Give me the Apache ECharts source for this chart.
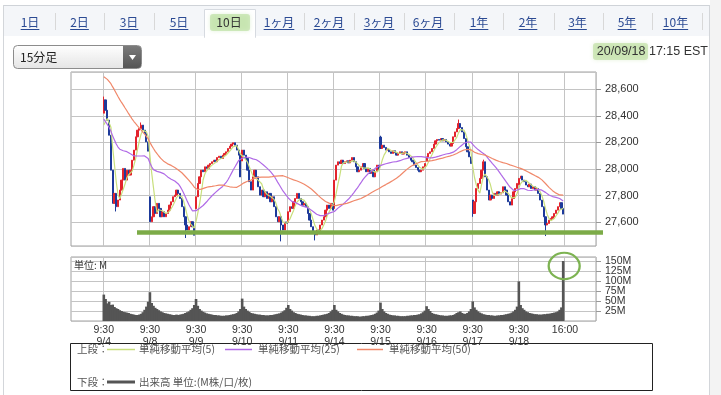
<!DOCTYPE html>
<html><head><meta charset="utf-8">
<script src="https://cdn.jsdelivr.net/npm/echarts@6/dist/echarts.min.js"></script>
<style>html,body{margin:0;padding:0;background:#fff;}#c{width:721px;height:395px;}</style>
</head><body><div id="c"></div>
<script>
// ---------- data ----------
const dayLabels = ['9/4','9/8','9/9','9/10','9/11','9/14','9/15','9/16','9/17','9/18'];
const barTimes = ['9:30','9:45','10:00','10:15','10:30','10:45','11:00','11:15','11:30','11:45','12:00','12:15','12:30','12:45','13:00','13:15','13:30','13:45','14:00','14:15','14:30','14:45','15:00','15:15','15:30','15:45'];
const closeLabel = '16:00';
const priceTicks = [27600, 27800, 28000, 28200, 28400, 28600];
const volumeTicks = [25, 50, 75, 100, 125, 150];

// opening price of the first 15-minute bar of each day
const dayOpens = [28420, 27790, 27700, 28060, 27600, 27740, 28240, 28060, 27766, 27880];

// 15-minute closes, one array per session
const c0904 = [28520,28442,28367,28254,27991,27741,27816,27716,27766,27841,27916,28004,27916,27991,27954,27991,28066,28142,28242,28292,28304,28330,28292,28267,28204,28134];
const c0908 = [27603,27640,27716,27665,27741,27703,27640,27678,27640,27665,27690,27728,27753,27791,27803,27841,27816,27778,27716,27640,27578,27540,27565,27603,27565,27501];
const c0909 = [27791,27891,27941,27991,27979,28016,28004,28029,28041,28054,28066,28054,28086,28096,28079,28104,28117,28129,28154,28172,28187,28197,28179,28142,28104,27940];
const c0910 = [28142,28104,28079,27991,27904,27841,27941,27991,27941,27866,27803,27841,27791,27828,27778,27816,27753,27791,27716,27640,27603,27640,27578,27540,27600,27590];
const c0911 = [27678,27716,27703,27753,27778,27816,27778,27753,27728,27741,27716,27665,27615,27565,27528,27503,27540,27515,27578,27615,27640,27690,27728,27703,27741,27690];
const c0914 = [27916,28029,28054,28041,28066,28041,28054,28061,28046,28066,28086,28054,28016,27979,27991,28016,28041,28004,27979,28004,27966,27991,27941,27979,28029,27996];
const c0915 = [28154,28179,28162,28142,28147,28129,28117,28137,28122,28104,28117,28129,28112,28122,28129,28104,28086,28066,28054,28029,28011,27991,27979,27991,28016,28041];
const c0916 = [28091,28117,28129,28154,28187,28212,28222,28217,28229,28212,28222,28204,28187,28172,28192,28242,28279,28304,28342,28312,28279,28229,28167,28129,28091,28041];
const c0917 = [27665,27753,27853,27891,27929,27991,28054,27941,27841,27766,27803,27778,27816,27803,27828,27811,27821,27866,27841,27803,27753,27728,27778,27828,27853,27891];
const c0918 = [27929,27946,27916,27904,27879,27866,27886,27853,27866,27841,27853,27816,27766,27716,27640,27578,27590,27615,27628,27640,27665,27690,27716,27746,27703,27660];

// visible wick extremes that reach beyond the candle bodies
const wickLows = { '9/4 11:15': 27680, '9/8 14:30': 27480, '9/10 15:00': 27455, '9/11 13:15': 27462, '9/18 13:15': 27495, '9/17 9:30': 27640, '9/14 9:30': 27700 };
const wickHighs = { '9/4 9:30': 28545, '9/16 14:00': 28372, '9/15 9:30': 28250, '9/4 14:45': 28350, '9/17 11:00': 28070 };

// estimated closes of the 49 bars before the window (9/2 afternoon, 9/3),
// chosen so that the moving averages start where the reference draws them
const priorCloses = [28880,28900,28920,28940,28960,28950,28970,28990,29000,28990,29010,29020,29030,29040,29030,29050,29060,29070,29080,29070,29090,29110,29100,
  29050,29000,28950,28880,28800,28720,28640,28560,28450,28350,28250,28150,28060,28000,28080,28150,28200,28280,28320,28250,28300,28340,28300,28260,28280,28292];

// volume per 15-minute bar, millions
const v0904 = [66,55,44,48,40,41,35,32,30,27,25,23,22,21,20,18,17,16,15,15,16,18,22,28,36,48];
const v0908 = [72,45,38,33,30,27,24,22,20,19,18,17,16,15,15,16,15,16,17,18,20,22,24,28,32,40];
const v0909 = [55,38,30,26,23,21,19,18,17,16,15,15,14,14,13,13,13,14,14,15,16,17,18,20,24,30];
const v0910 = [56,36,30,26,23,20,19,18,17,16,16,15,15,14,14,14,15,15,16,17,18,19,21,24,27,33];
const v0911 = [40,30,26,22,20,18,17,16,15,14,14,13,13,12,12,12,13,13,14,15,16,17,18,20,24,28];
const v0914 = [40,28,24,20,18,16,15,14,14,13,13,12,12,12,11,11,12,12,13,13,14,15,16,18,21,26];
const v0915 = [46,30,24,20,18,16,15,14,14,13,13,12,12,12,12,13,13,14,14,15,15,16,17,19,22,26];
const v0916 = [37,30,25,20,18,17,16,15,14,14,13,13,13,14,14,15,17,20,22,24,20,18,18,20,24,30];
const v0917 = [49,34,28,24,21,19,17,16,15,15,14,14,13,13,14,14,15,15,16,17,18,19,21,24,28,36];
const v0918 = [99,40,32,28,24,22,20,19,18,17,17,16,16,16,17,17,18,18,19,20,21,22,24,28,34,150];

const supportLevel = 27522; // hand-drawn green line in the reference

const dailyCloses = [c0904,c0908,c0909,c0910,c0911,c0914,c0915,c0916,c0917,c0918];
const dailyVolumes = [v0904,v0908,v0909,v0910,v0911,v0914,v0915,v0916,v0917,v0918];

// ---------- build library inputs ----------
const PAD = 18;
const cats = [], candles = [], vols = [], closesAll = [];
for (let p = 0; p < PAD; p++) { cats.push('L' + p); candles.push('-'); vols.push('-'); }
dailyCloses.forEach((cl, d) => {
  cl.forEach((c, k) => {
    const key = dayLabels[d] + ' ' + barTimes[k];
    const o = k === 0 ? dayOpens[d] : cl[k - 1];
    let lo = Math.min(o, c), hi = Math.max(o, c);
    if (wickLows[key] !== undefined) lo = Math.min(lo, wickLows[key]);
    if (wickHighs[key] !== undefined) hi = Math.max(hi, wickHighs[key]);
    candles.push([o, c, lo, hi]);
    cats.push(key);
    vols.push(dailyVolumes[d][k]);
    closesAll.push(c);
  });
});
for (let p = 0; p < PAD; p++) { cats.push('R' + p); candles.push('-'); vols.push('-'); }

function sma(n) {
  const all = priorCloses.concat(closesAll);
  const out = [];
  for (let p = 0; p < PAD; p++) out.push('-');
  for (let i = 0; i < closesAll.length; i++) {
    const j = priorCloses.length + i;
    let s = 0;
    for (let t = j - n + 1; t <= j; t++) s += all[t];
    out.push(+(s / n).toFixed(1));
  }
  for (let p = 0; p < PAD; p++) out.push('-');
  return out;
}

const nBars = barTimes.length;
function isBoundary(i) {
  const r = i - PAD;
  return r >= 0 && r <= nBars * dayLabels.length && r % nBars === 0;
}
function boundaryLabel(i) {
  const d = (i - PAD) / nBars;
  return d < dayLabels.length ? barTimes[0] + '\n' + dayLabels[d] : closeLabel;
}

const gridColor = '#c4c4c4';
const labelFont = "'Liberation Sans', Arial, sans-serif";
const jpFont = "'Noto Sans CJK JP', sans-serif";

const chart = echarts.init(document.getElementById('c'), null, { renderer: 'canvas' });

const option = {
  animation: false,
  backgroundColor: '#fff',
  grid: [
    { left: 71, right: 125, top: 72, height: 174, show: true, borderColor: '#a0a0a0', borderWidth: 1, backgroundColor: '#fff' },
    { left: 71, right: 125, top: 257, height: 64, show: true, borderColor: '#a0a0a0', borderWidth: 1, backgroundColor: '#fff' }
  ],
  xAxis: [
    { type: 'category', gridIndex: 0, data: cats, boundaryGap: true,
      axisLine: { show: false }, axisTick: { show: false }, axisLabel: { show: false },
      splitLine: { show: true, interval: (i) => isBoundary(i), lineStyle: { color: gridColor, width: 1 } } },
    { type: 'category', gridIndex: 1, data: cats, boundaryGap: true,
      axisLine: { show: false }, axisTick: { show: false },
      axisLabel: { show: true, interval: (i) => isBoundary(i), formatter: (v, i) => boundaryLabel(i),
        fontFamily: labelFont, fontSize: 10.5, color: '#333', lineHeight: 12, margin: 3 },
      splitLine: { show: true, interval: (i) => isBoundary(i), lineStyle: { color: gridColor, width: 1 } } }
  ],
  yAxis: [
    { type: 'value', gridIndex: 0, position: 'right', min: 27420, max: 28730, splitNumber: 6, scale: true,
      axisLine: { show: false },
      axisTick: { show: true, length: 5, lineStyle: { color: '#999' } },
      axisLabel: { showMinLabel: false, showMaxLabel: false, margin: 9, fontFamily: labelFont, fontSize: 11, color: '#333',
        formatter: (v) => priceTicks.indexOf(v) >= 0 ? v.toLocaleString('en-US') : '' },
      splitLine: { show: true, lineStyle: { color: gridColor, width: 1 } } },
    { type: 'value', gridIndex: 1, position: 'right', min: 0, max: 160, interval: 25,
      axisLine: { show: false },
      axisTick: { show: true, length: 5, lineStyle: { color: '#999' } },
      axisLabel: { showMinLabel: false, showMaxLabel: false, margin: 9, fontFamily: labelFont, fontSize: 10.5, color: '#333', lineHeight: 10,
        formatter: (v) => volumeTicks.indexOf(v) >= 0 ? v + 'M' : '' },
      splitLine: { show: true, lineStyle: { color: gridColor, width: 1 } } }
  ],
  series: [
    { name: 'price', type: 'candlestick', xAxisIndex: 0, yAxisIndex: 0, data: candles, barWidth: 1.7,
      itemStyle: { color: '#e3232c', color0: '#1d3a9a', borderColor: '#e3232c', borderColor0: '#1d3a9a', borderWidth: 1 }, z: 2 },
    { name: '単純移動平均(5)', type: 'line', xAxisIndex: 0, yAxisIndex: 0, data: sma(5), showSymbol: false, z: 4,
      lineStyle: { color: '#c8df7c', width: 1.2 } },
    { name: '単純移動平均(25)', type: 'line', xAxisIndex: 0, yAxisIndex: 0, data: sma(25), showSymbol: false, z: 4,
      lineStyle: { color: '#b06ae6', width: 1.2 } },
    { name: '単純移動平均(50)', type: 'line', xAxisIndex: 0, yAxisIndex: 0, data: sma(50), showSymbol: false, z: 4,
      lineStyle: { color: '#f0886a', width: 1.2 } },
    { name: '出来高', type: 'bar', xAxisIndex: 1, yAxisIndex: 1, data: vols, barWidth: 2.6, barGap: '-100%',
      itemStyle: { color: '#555555', borderWidth: 0 } }
  ]
};
chart.setOption(option);

// ---------- page chrome and legend (graphic) ----------
const mctx = document.createElement('canvas').getContext('2d');
function tw(text, font) { mctx.font = font; return mctx.measureText(text).width; }

const g = [];
function txt(x, y, text, font, fill, align, extra) {
  g.push(Object.assign({ type: 'text', x: x, y: y, style: { text: text, font: font, fill: fill,
    align: align || 'left', textAlign: align || 'left', verticalAlign: 'middle', textVerticalAlign: 'middle' } }, extra || {}));
}
function line(x1, y1, x2, y2, stroke, w, z) {
  g.push({ type: 'line', z: z || 1, shape: { x1: x1, y1: y1, x2: x2, y2: y2 }, style: { stroke: stroke, lineWidth: w } });
}
function rect(x, y, w, h, style, r, z) {
  g.push({ type: 'rect', z: z || 0, shape: { x: x, y: y, width: w, height: h, r: r || 0 }, style: style });
}

// tab strip
rect(3, 5, 706, 31, { fill: '#f4f6f9' });
line(3, 5.5, 709, 5.5, '#cfd3d8', 1);
line(3.5, 5, 3.5, 395, '#d3d6da', 1);
line(709.5, 5, 709.5, 395, '#d3d6da', 1);
rect(710, 0, 11, 395, { fill: '#f3f3f3' });
// selected tab
rect(204.5, 9.5, 51, 28, { fill: '#fff', stroke: '#d6dae0', lineWidth: 1 }, 0, 1);
rect(205, 35, 50, 4, { fill: '#fff' }, 0, 2);
rect(210, 14, 40, 17, { fill: 'rgba(170,215,135,0.5)', shadowBlur: 4, shadowColor: 'rgba(170,215,135,0.6)' }, 3, 3);

const tabFont = "12px " + jpFont;
const tabs = [['1日',30],['2日',79.5],['3日',129],['5日',179],['10日',229],['1ヶ月',279],['2ヶ月',329],['3ヶ月',379],['6ヶ月',428],['1年',479],['2年',528],['3年',577.5],['5年',627],['10年',675.5]];
tabs.forEach(([t, cx]) => {
  const sel = t === '10日';
  txt(cx, 22, t, tabFont, sel ? '#333' : '#2b4a93', 'center', { z: 5 });
  if (!sel) {
    const w = tw(t, tabFont);
    line(cx - w / 2, 29.5, cx + w / 2, 29.5, '#2b4a93', 1, 5);
  }
});
[55.5, 104.5, 154.5, 304.5, 354.5, 404.5, 454.5, 503.5, 554.5, 603.5, 652.5, 702.5].forEach(x => line(x, 13, x, 30, '#d8d8d8', 1));

// period dropdown
rect(13.5, 45.5, 128, 23, { fill: new echarts.graphic.LinearGradient(0, 0, 0, 1, [{ offset: 0, color: '#ffffff' }, { offset: 1, color: '#e4e4e4' }]), stroke: '#8c8c8c', lineWidth: 1 }, 4, 1);
rect(123, 46, 18, 22, { fill: new echarts.graphic.LinearGradient(0, 0, 0, 1, [{ offset: 0, color: '#7a7a7a' }, { offset: 1, color: '#555' }]) }, [0, 3, 3, 0], 2);
g.push({ type: 'polygon', z: 3, shape: { points: [[129, 55], [136, 55], [132.5, 60]] }, style: { fill: '#fff' } });
txt(20, 57, '15分足', "12px " + jpFont, '#222', 'left', { z: 3 });

// timestamp
rect(593, 43, 55, 17, { fill: 'rgba(175,215,140,0.5)', shadowBlur: 4, shadowColor: 'rgba(175,215,140,0.6)' }, 3, 1);
txt(708, 51.5, '20/09/18 17:15 EST', "12.5px " + labelFont, '#333', 'right', { z: 3 });

// volume unit
txt(74, 265, '単位: M', "10px " + jpFont, '#333', 'left', { z: 10 });

// legend box
rect(70.5, 343.5, 582, 47, { fill: '#fff', stroke: '#222', lineWidth: 1 });
const lgFont = "10.5px " + jpFont;
const lgCol = '#555';
txt(77, 349, '上段：', lgFont, lgCol);
line(107, 349.5, 135, 349.5, '#c8df7c', 1.5);
txt(139, 349, '単純移動平均(5)', lgFont, lgCol);
line(225, 349.5, 252, 349.5, '#b06ae6', 1.5);
txt(258, 349, '単純移動平均(25)', lgFont, lgCol);
line(357, 349.5, 383, 349.5, '#f0886a', 1.5);
txt(389, 349, '単純移動平均(50)', lgFont, lgCol);
txt(77, 382, '下段：', lgFont, lgCol);
line(107, 382, 135, 382, '#555', 3);
txt(139, 382, '出来高 単位:(M株/口/枚)', lgFont, lgCol);

// hand-drawn green annotations
const supY = chart.convertToPixel({ yAxisIndex: 0 }, supportLevel);
line(137, supY, 603, supY, '#7cab48', 4.5, 50);
const lastIdx = vols.length - PAD - 1;
const spikeX = chart.convertToPixel({ xAxisIndex: 1 }, lastIdx);
const spikeY = chart.convertToPixel({ yAxisIndex: 1 }, vols[lastIdx]);
g.push({ type: 'circle', z: 50, x: spikeX + 1, y: spikeY + 5, scaleY: 0.85, shape: { cx: 0, cy: 0, r: 15.5 },
  style: { fill: 'none', stroke: '#7db352', lineWidth: 2.3 } });

chart.setOption({ graphic: { elements: g } });
</script></body></html>
